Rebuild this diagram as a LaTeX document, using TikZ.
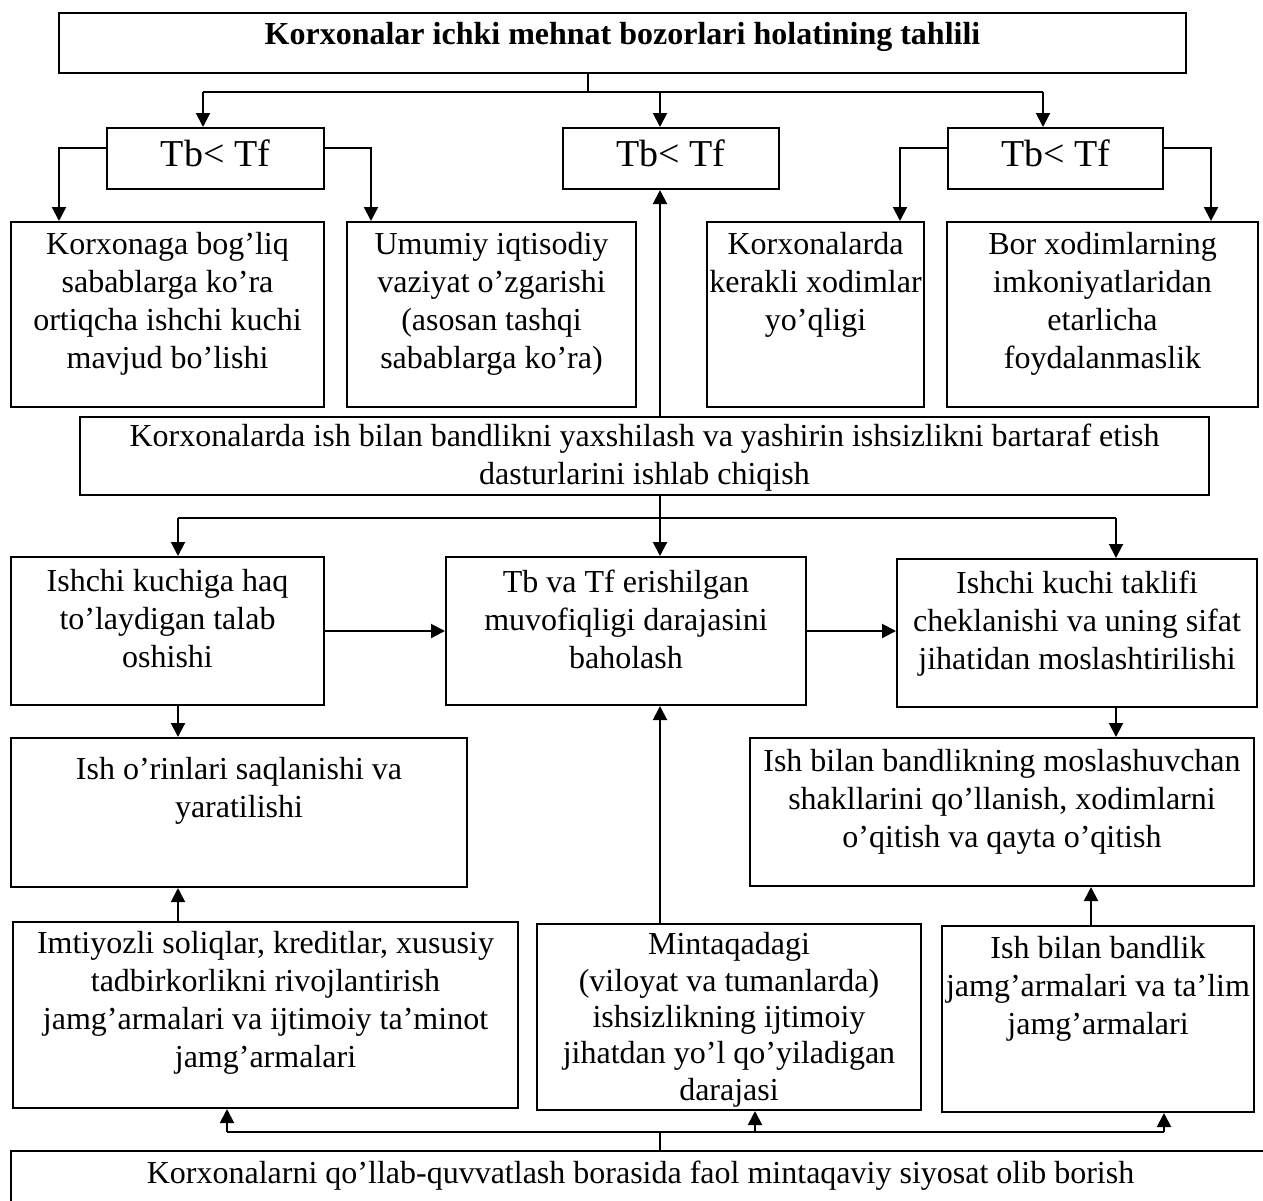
\documentclass[tikz,border=0pt]{standalone}
\usepackage{fontspec}
\setmainfont{Liberation Serif}
\usetikzlibrary{arrows.meta,positioning,fit}

\begin{document}
\begin{tikzpicture}[x=0.5pt, y=-0.5pt,
  box/.style={draw, line width=1pt, inner sep=0pt},
  txt/.style={align=center, inner sep=0pt, font=\fontsize{16}{19}\selectfont},
  ttl/.style={txt, font=\fontsize{16}{19}\selectfont\bfseries},
  big/.style={txt, font=\fontsize{19}{22}\selectfont},
  ln/.style={line width=1pt},
  arr/.style={line width=1pt, -{Triangle[length=7pt,width=7pt]}}
]
  \clip (0,0) rectangle (1263,1200);

  % boxes
  \node[box, fit={(59,13) (1186,73)}] (title) {};
  \node[box, fit={(107,128) (324,189)}] (tb1) {};
  \node[box, fit={(563,128) (779,189)}] (tb2) {};
  \node[box, fit={(948,128) (1163,189)}] (tb3) {};
  \node[box, fit={(11,222) (324,407)}] (ka) {};
  \node[box, fit={(347,222) (636,407)}] (kb) {};
  \node[box, fit={(707,222) (924,407)}] (kd) {};
  \node[box, fit={(947,222) (1258,407)}] (ke) {};
  \node[box, fit={(80,417) (1209,495)}] (prog) {};
  \node[box, fit={(11,557) (324,705)}] (dem) {};
  \node[box, fit={(446,557) (806,705)}] (eval) {};
  \node[box, fit={(897,559) (1257,707)}] (offer) {};
  \node[box, fit={(11,738) (467,887)}] (jobs) {};
  \node[box, fit={(750,738) (1254,886)}] (flex) {};
  \node[box, fit={(13,922) (518,1108)}] (tax) {};
  \node[box, fit={(537,924) (921,1110)}] (reg) {};
  \node[box, fit={(942,926) (1254,1112)}] (fund) {};
  \node[box, fit={(11,1151) (1270,1240)}] (pol) {};

  % texts
  \node[ttl, below=5pt of title.north] (title-t) {Korxonalar ichki mehnat bozorlari holatining tahlili};
  \node[big, below=6pt of tb1.north] (tb1-t) {Tb< Tf};
  \node[big, below=6pt of tb2.north] (tb2-t) {Tb< Tf};
  \node[big, below=6pt of tb3.north] (tb3-t) {Tb< Tf};
  \node[txt, below=5.5pt of ka.north] (ka-t) {Korxonaga bog’liq\\sabablarga ko’ra\\ortiqcha ishchi kuchi\\mavjud bo’lishi};
  \node[txt, below=5.5pt of kb.north] (kb-t) {Umumiy iqtisodiy\\vaziyat o’zgarishi\\(asosan tashqi\\sabablarga ko’ra)};
  \node[txt, below=5.5pt of kd.north] (kd-t) {Korxonalarda\\kerakli xodimlar\\yo’qligi};
  \node[txt, below=5.5pt of ke.north] (ke-t) {Bor xodimlarning\\imkoniyatlaridan\\etarlicha\\foydalanmaslik};
  \node[txt, below=4pt of prog.north] (prog-t) {Korxonalarda ish bilan bandlikni yaxshilash va yashirin ishsizlikni bartaraf etish\\dasturlarini ishlab chiqish};
  \node[txt, below=6.5pt of dem.north] (dem-t) {Ishchi kuchiga haq\\to’laydigan talab\\oshishi};
  \node[txt, below=7pt of eval.north] (eval-t) {Tb va Tf erishilgan\\muvofiqligi darajasini\\baholash};
  \node[txt, below=6.5pt of offer.north] (offer-t) {Ishchi kuchi taklifi\\cheklanishi va uning sifat\\jihatidan moslashtirilishi};
  \node[txt, below=10pt of jobs.north] (jobs-t) {Ish o’rinlari saqlanishi va\\yaratilishi};
  \node[txt, below=6pt of flex.north] (flex-t) {Ish bilan bandlikning moslashuvchan\\shakllarini qo’llanish, xodimlarni\\o’qitish va qayta o’qitish};
  \node[txt, below=5pt of tax.north] (tax-t) {Imtiyozli soliqlar, kreditlar, xususiy\\tadbirkorlikni rivojlantirish\\jamg’armalari va ijtimoiy ta’minot\\jamg’armalari};
  \node[txt, font=\fontsize{16}{18.2}\selectfont, below=4.5pt of reg.north] (reg-t) {Mintaqadagi\\(viloyat va tumanlarda)\\ishsizlikning ijtimoiy\\jihatdan yo’l qo’yiladigan\\darajasi};
  \node[txt, below=5.5pt of fund.north] (fund-t) {Ish bilan bandlik\\jamg’armalari va ta’lim\\jamg’armalari};
  \node[txt, below=5.5pt of pol.north] (pol-t) {Korxonalarni qo’llab-quvvatlash borasida faol mintaqaviy siyosat olib borish};

  % connectors
  \coordinate (mid) at (660,0);
  \coordinate (j0) at (588,92);
  \coordinate (j0l) at (203,92);
  \coordinate (j0r) at (1043,92);
  \draw[ln] (title.south -| j0) -- (j0);
  \draw[ln] (j0l) -- (j0r);
  \draw[arr] (j0l) -- (tb1.north -| j0l);
  \draw[arr] (j0 -| mid) -- (tb2.north -| mid);
  \draw[arr] (j0r) -- (tb3.north -| j0r);

  \coordinate (b1) at (59,148);
  \coordinate (b2) at (371,148);
  \coordinate (b3) at (900,148);
  \coordinate (b4) at (1211,148);
  \draw[arr] (tb1.west |- b1) -| (ka.north -| b1);
  \draw[arr] (tb1.east |- b2) -| (kb.north -| b2);
  \draw[arr] (tb3.west |- b3) -| (kd.north -| b3);
  \draw[arr] (tb3.east |- b4) -| (ke.north -| b4);

  \draw[arr] (prog.north -| mid) -- (tb2.south -| mid);

  \coordinate (j1l) at (178,518);
  \coordinate (j1r) at (1116,518);
  \draw[ln] (prog.south -| mid) -- (j1l -| mid);
  \draw[ln] (j1l) -- (j1r);
  \draw[arr] (j1l) -- (dem.north -| j1l);
  \draw[arr] (j1l -| mid) -- (eval.north -| mid);
  \draw[arr] (j1r) -- (offer.north -| j1r);
  \draw[arr] (dem.east) -- (eval.west);
  \draw[arr] (eval.east) -- (offer.west |- eval.east);
  \draw[arr] (dem.south -| j1l) -- (jobs.north -| j1l);
  \draw[arr] (offer.south -| j1r) -- (flex.north -| j1r);

  \coordinate (c3) at (1091,0);
  \draw[arr] (tax.north -| j1l) -- (jobs.south -| j1l);
  \draw[arr] (reg.north -| mid) -- (eval.south -| mid);
  \draw[arr] (fund.north -| c3) -- (flex.south -| c3);

  \coordinate (j2l) at (227,1132);
  \coordinate (j2m) at (755,1132);
  \coordinate (j2r) at (1164,1132);
  \draw[ln] (pol.north -| mid) -- (j2l -| mid);
  \draw[ln] (j2l) -- (j2r);
  \draw[arr] (j2l) -- (tax.south -| j2l);
  \draw[arr] (j2m) -- (reg.south -| j2m);
  \draw[arr] (j2r) -- (fund.south -| j2r);
\end{tikzpicture}
\end{document}
